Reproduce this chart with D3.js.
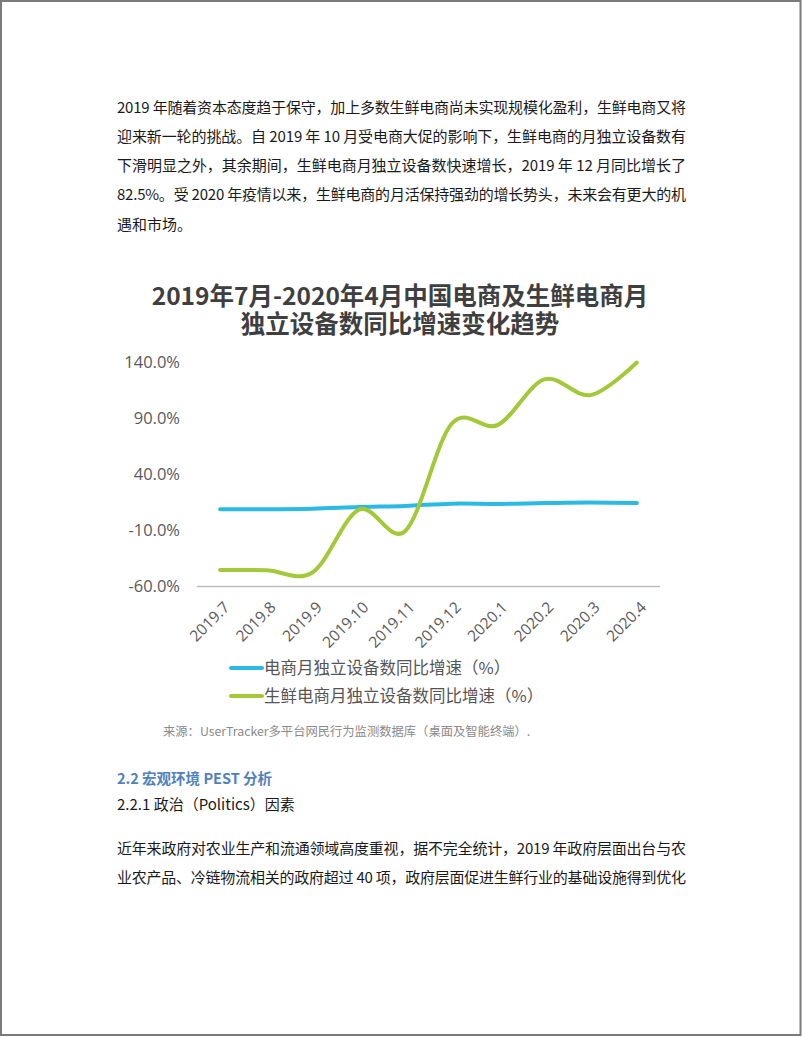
<!DOCTYPE html>
<html><head><meta charset="utf-8">
<script src="https://cdn.jsdelivr.net/npm/d3@7/dist/d3.min.js"></script>
<style>html,body{margin:0;padding:0;background:#fff;}svg{display:block;}</style>
</head><body>
<script>
const categories = ["2019.7","2019.8","2019.9","2019.10","2019.11","2019.12","2020.1","2020.2","2020.3","2020.4"];
const ecommerce = [8.8, 8.8, 9.3, 10.8, 11.8, 13.8, 13.6, 14.3, 14.8, 14.3];
const freshEcommerce = [-45.3, -45.5, -47.3, 8.5, -10.5, 85, 84, 124.5, 110.5, 139.5];
const yTicks = [-60, -10, 40, 90, 140];
const seriesNames = ["电商月独立设备数同比增速（%）", "生鲜电商月独立设备数同比增速（%）"];
const titleLines = ["2019年7月-2020年4月中国电商及生鲜电商月", "独立设备数同比增速变化趋势"];
const sourceText = "来源：UserTracker多平台网民行为监测数据库（桌面及智能终端）.";
const paraTop = [
  "2019 年随着资本态度趋于保守，加上多数生鲜电商尚未实现规模化盈利，生鲜电商又将",
  "迎来新一轮的挑战。自 2019 年 10 月受电商大促的影响下，生鲜电商的月独立设备数有",
  "下滑明显之外，其余期间，生鲜电商月独立设备数快速增长，2019 年 12 月同比增长了",
  "82.5%。受 2020 年疫情以来，生鲜电商的月活保持强劲的增长势头，未来会有更大的机",
  "遇和市场。"
];
const heading = "2.2 宏观环境 PEST 分析";
const subheading = "2.2.1 政治（Politics）因素";
const paraBottom = [
  "近年来政府对农业生产和流通领域高度重视，据不完全统计，2019 年政府层面出台与农",
  "业农产品、冷链物流相关的政府超过 40 项，政府层面促进生鲜行业的基础设施得到优化"
];

const W = 802, H = 1037;
const svg = d3.select("body").append("svg").attr("width", W).attr("height", H);
svg.append("rect").attr("width", W).attr("height", H).attr("fill", "#fff");
svg.append("rect").attr("x", 1).attr("y", 1).attr("width", 799.5).attr("height", 1034)
  .attr("fill", "none").attr("stroke", "#7a7a7a").attr("stroke-width", 2);

const bodyFont = "'Noto Sans CJK SC', 'Noto Sans', sans-serif";

function para(lines, y0, step, fullCount) {
  lines.forEach((t, i) => {
    const el = svg.append("text").attr("x", 117).attr("y", y0 + i * step)
      .attr("font-family", bodyFont).attr("font-size", 15).attr("fill", "#1a1a1a").text(t);
    if (i < fullCount) el.attr("textLength", 569).attr("lengthAdjust", "spacing");
  });
}
para(paraTop, 112.5, 29.3, 4);

// title: one wrapped block of text, two lines
const fo = svg.append("foreignObject").attr("x", 100).attr("y", 281).attr("width", 600).attr("height", 58);
fo.append("xhtml:div")
  .style("font-family", bodyFont).style("font-weight", "bold").style("font-size", "24.5px")
  .style("line-height", "28px").style("color", "#3f3f3f").style("text-align", "center")
  .style("margin", "0").style("white-space", "pre")
  .text(titleLines.join("\n"));

const x = d3.scalePoint().domain(categories).range([197, 660]).padding(0.5);
const y = d3.scaleLinear().domain([-60, 140]).range([586.5, 362]);

// y axis labels
const yAxis = d3.axisLeft(y).tickValues(yTicks).tickSize(0).tickPadding(0)
  .tickFormat(d => d.toFixed(1) + "%");
const gy = svg.append("g").attr("transform", "translate(180,0)").call(yAxis);
gy.select(".domain").remove();
gy.selectAll("text").attr("font-family", "'Open Sans', sans-serif").attr("font-size", 16.5)
  .attr("fill", "#5a5a5a");

// x axis
const xAxis = d3.axisBottom(x).tickSize(0).tickPadding(0);
const gx = svg.append("g").attr("transform", "translate(0,586.5)").call(xAxis);
gx.select(".domain").attr("stroke", "#bdbdbd").attr("stroke-width", 1.6).attr("d", "M197,0H660");
gx.selectAll("text")
  .attr("font-family", "'Open Sans', sans-serif").attr("font-size", 15.5).attr("fill", "#5a5a5a")
  .attr("text-anchor", "end").attr("dy", "0.35em")
  .attr("transform", "translate(6,18) rotate(-45)");

const line = d3.line().x((d, i) => x(categories[i])).y(d => y(d)).curve(d3.curveCardinal.tension(0));
svg.append("path").datum(ecommerce).attr("d", line).attr("fill", "none")
  .attr("stroke", "#2bb9e6").attr("stroke-width", 4).attr("stroke-linecap", "round");
svg.append("path").datum(freshEcommerce).attr("d", line).attr("fill", "none")
  .attr("stroke", "#a3c83a").attr("stroke-width", 4).attr("stroke-linecap", "round");

// legend
const legColors = ["#2bb9e6", "#a3c83a"];
seriesNames.forEach((n, i) => {
  const ly = 668 + i * 28;
  svg.append("line").attr("x1", 231).attr("x2", 262).attr("y1", ly).attr("y2", ly)
    .attr("stroke", legColors[i]).attr("stroke-width", 4).attr("stroke-linecap", "round");
  svg.append("text").attr("x", 264).attr("y", ly + 6).attr("font-family", bodyFont)
    .attr("font-size", 16.5).attr("fill", "#555").text(n);
});

svg.append("text").attr("x", 163).attr("y", 736).attr("font-family", bodyFont)
  .attr("font-size", 12.3).attr("fill", "#8a8a8a").text(sourceText);

svg.append("text").attr("x", 117).attr("y", 784).attr("font-family", bodyFont)
  .attr("font-weight", "bold").attr("font-size", 14.5).attr("fill", "#4f81bd").text(heading);
svg.append("text").attr("x", 117).attr("y", 810).attr("font-family", bodyFont)
  .attr("font-size", 15).attr("fill", "#1a1a1a").text(subheading);
para(paraBottom, 854, 29.3, 2);
</script>
</body></html>
